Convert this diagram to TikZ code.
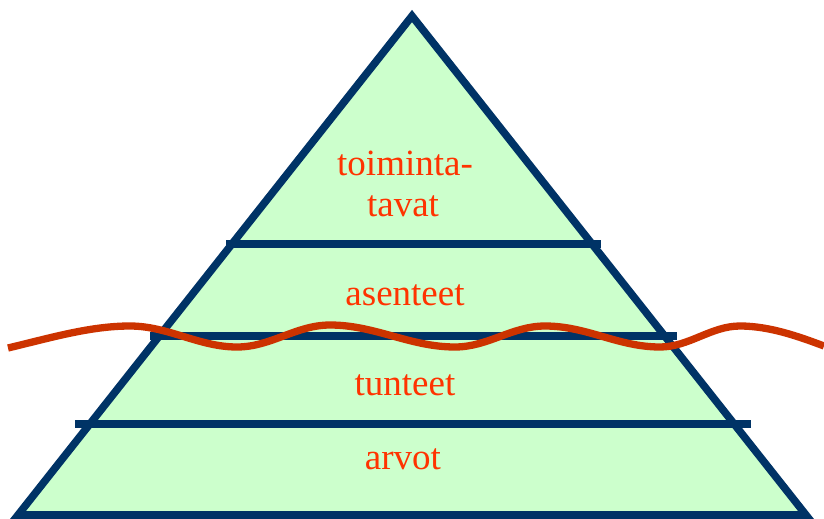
\documentclass[tikz,border=0pt]{standalone}
\usepackage{fontspec}
\setmainfont{Liberation Serif}
\definecolor{navy}{HTML}{003366}
\definecolor{paleg}{HTML}{CCFFCC}
\definecolor{wavered}{HTML}{CC3300}
\definecolor{txtred}{HTML}{FF3300}
\begin{document}
\begin{tikzpicture}[x=1pt,y=-1pt,
  layer/.style={draw=navy,line width=7.6pt,line cap=butt},
  lbl/.style={text=txtred,font=\fontsize{37}{41}\selectfont,anchor=base,inner sep=0pt,align=center},
  wave/.style={draw=wavered,line width=7.3pt,line cap=butt}]
\useasboundingbox (0,0) rectangle (824,519);
\coordinate (apex) at (412,16);
\coordinate (bl) at (18,515);
\coordinate (br) at (806,515);
\fill[paleg] (apex) -- (bl) -- (br) -- cycle;
\draw[layer] (226,244) -- (601,244);
\draw[layer] (150,336) -- (677,336);
\draw[layer] (75,424) -- (751,424);
\draw[layer,line join=miter] (apex) -- (bl) -- (br) -- cycle;
\node[lbl] (t1) at (405,175) {toiminta-};
\node[lbl] (t2) at (403,216) {tavat};
\node[lbl] (t3) at (405,305) {asenteet};
\node[lbl] (t4) at (405,395) {tunteet};
\node[lbl] (t5) at (403,469) {arvot};
\draw[wave] (8,348) .. controls (50,338) and (90,326) .. (130,326)
  .. controls (168,326) and (199,347) .. (237,347)
  .. controls (271,347) and (296,325) .. (330,325)
  .. controls (375,325) and (410,347) .. (455,347)
  .. controls (488,347) and (512,326) .. (545,326)
  .. controls (587,326) and (618,347) .. (660,347)
  .. controls (689,347) and (711,326) .. (740,326)
  .. controls (770,326) and (800,337) .. (824,346);
\end{tikzpicture}
\end{document}
